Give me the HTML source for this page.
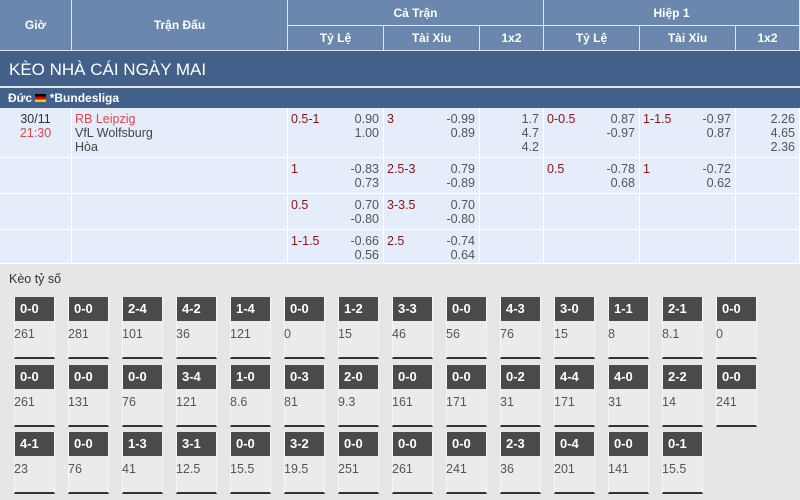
<!DOCTYPE html>
<html><head><meta charset="utf-8"><style>
*{margin:0;padding:0;box-sizing:border-box}
body{width:800px;height:500px;overflow:hidden;background:#e6e6e6;font-family:"Liberation Sans",sans-serif;position:relative;font-size:12px}
.a{position:absolute}
.h{background:#6c87ad;color:#fff;font-size:12px;font-weight:bold;display:flex;align-items:center;justify-content:center;border-right:1px solid #dfe6f0;border-bottom:1px solid #dfe6f0}
.c{background:#e4edf9;border-right:1px solid #fff;border-bottom:1px solid #fff;font-size:12.5px}
.r{color:#8a1414}
.g{color:#555;text-align:right;line-height:14px}
.card{position:absolute;width:41px;height:62px;background:#ebebeb;border-left:1px solid #f6f6f6;border-right:1px solid #f6f6f6;border-bottom:2px solid #333}
.card b{display:block;background:#4a4a4a;color:#fff;font-size:13px;height:24px;line-height:24px;padding-left:5px}
.card span{display:block;color:#555;font-size:12.5px;margin-top:6px;margin-left:-1px}
</style></head><body>
<div class="a h" style="left:0;top:0;width:72px;height:51px">Giờ</div>
<div class="a h" style="left:72px;top:0;width:216px;height:51px">Trận Đấu</div>
<div class="a h" style="left:288px;top:0;width:256px;height:26px">Cả Trận</div>
<div class="a h" style="left:544px;top:0;width:256px;height:26px">Hiệp 1</div>
<div class="a h" style="left:288px;top:26px;width:96px;height:25px">Tỷ Lệ</div>
<div class="a h" style="left:384px;top:26px;width:96px;height:25px">Tài Xỉu</div>
<div class="a h" style="left:480px;top:26px;width:64px;height:25px">1x2</div>
<div class="a h" style="left:544px;top:26px;width:96px;height:25px">Tỷ Lệ</div>
<div class="a h" style="left:640px;top:26px;width:96px;height:25px">Tài Xỉu</div>
<div class="a h" style="left:736px;top:26px;width:64px;height:25px">1x2</div>
<div class="a" style="left:0;top:51px;width:800px;height:35px;background:#42608a;color:#fff;font-size:17px;line-height:37px;padding-left:9px">KÈO NHÀ CÁI NGÀY MAI</div>
<div class="a" style="left:0;top:88px;width:800px;height:20px;background:#42608a;color:#fff;font-size:12px;font-weight:bold;line-height:20px;padding-left:8px">Đức <span style="display:inline-block;width:11px;height:8px;background:linear-gradient(#000 33%,#d00 33%,#d00 66%,#fc0 66%);vertical-align:0"></span> *Bundesliga</div>

<div class="a c" style="left:0;top:108px;width:72px;height:50px;text-align:center;line-height:14px;padding-top:4px;color:#333">30/11<br><span style="color:#e0464a">21:30</span></div>
<div class="a c" style="left:72px;top:108px;width:216px;height:50px;line-height:14px;padding:4px 0 0 3px;color:#444">
<span style="color:#e0464a">RB Leipzig</span><br>VfL Wolfsburg<br>Hòa</div>
<div class="a c" style="left:0;top:158px;width:72px;height:36px"></div><div class="a c" style="left:72px;top:158px;width:216px;height:36px"></div>
<div class="a c" style="left:0;top:194px;width:72px;height:36px"></div><div class="a c" style="left:72px;top:194px;width:216px;height:36px"></div>
<div class="a c" style="left:0;top:230px;width:72px;height:34px"></div><div class="a c" style="left:72px;top:230px;width:216px;height:34px"></div>

<div id="cells"></div>
<script>
var cols=[288,384,480,544,640,736,800];
var rows=[[108,50],[158,36],[194,36],[230,34]];
var data=[
[["0.5-1","0.90<br>1.00"],["3","-0.99<br>0.89"],["","1.7<br>4.7<br>4.2"],["0-0.5","0.87<br>-0.97"],["1-1.5","-0.97<br>0.87"],["","2.26<br>4.65<br>2.36"]],
[["1","-0.83<br>0.73"],["2.5-3","0.79<br>-0.89"],["",""],["0.5","-0.78<br>0.68"],["1","-0.72<br>0.62"],["",""]],
[["0.5","0.70<br>-0.80"],["3-3.5","0.70<br>-0.80"],["",""],["",""],["",""],["",""]],
[["1-1.5","-0.66<br>0.56"],["2.5","-0.74<br>0.64"],["",""],["",""],["",""],["",""]]];
var h="";
for(var r=0;r<4;r++)for(var c=0;c<6;c++){var x=cols[c],w=cols[c+1]-x,d=data[r][c];
h+='<div class="a c" style="left:'+x+'px;top:'+rows[r][0]+'px;width:'+w+'px;height:'+rows[r][1]+'px"><span class="a r" style="left:3px;top:4px;line-height:14px">'+d[0]+'</span><div class="a g" style="right:4px;top:4px">'+d[1]+'</div></div>';}
h+='<div class="a" style="left:0;top:264px;width:800px;height:31px;line-height:31px;padding-left:9px;color:#333;font-size:12.5px">Kèo tỷ số</div>';
var cards=[
[["0-0",261],["0-0",281],["2-4",101],["4-2",36],["1-4",121],["0-0",0],["1-2",15],["3-3",46],["0-0",56],["4-3",76],["3-0",15],["1-1",8],["2-1","8.1"],["0-0",0]],
[["0-0",261],["0-0",131],["0-0",76],["3-4",121],["1-0","8.6"],["0-3",81],["2-0","9.3"],["0-0",161],["0-0",171],["0-2",31],["4-4",171],["4-0",31],["2-2",14],["0-0",241]],
[["4-1",23],["0-0",76],["1-3",41],["3-1","12.5"],["0-0","15.5"],["3-2","19.5"],["0-0",251],["0-0",261],["0-0",241],["2-3",36],["0-4",201],["0-0",141],["0-1","15.5"]]];
var tops=[297,365,432];
for(var r=0;r<3;r++)for(var i=0;i<cards[r].length;i++){
h+='<div class="card" style="left:'+(14+i*54)+'px;top:'+tops[r]+'px"><b>'+cards[r][i][0]+'</b><span>'+cards[r][i][1]+'</span></div>';}
document.getElementById("cells").innerHTML=h;
</script>
</body></html>
